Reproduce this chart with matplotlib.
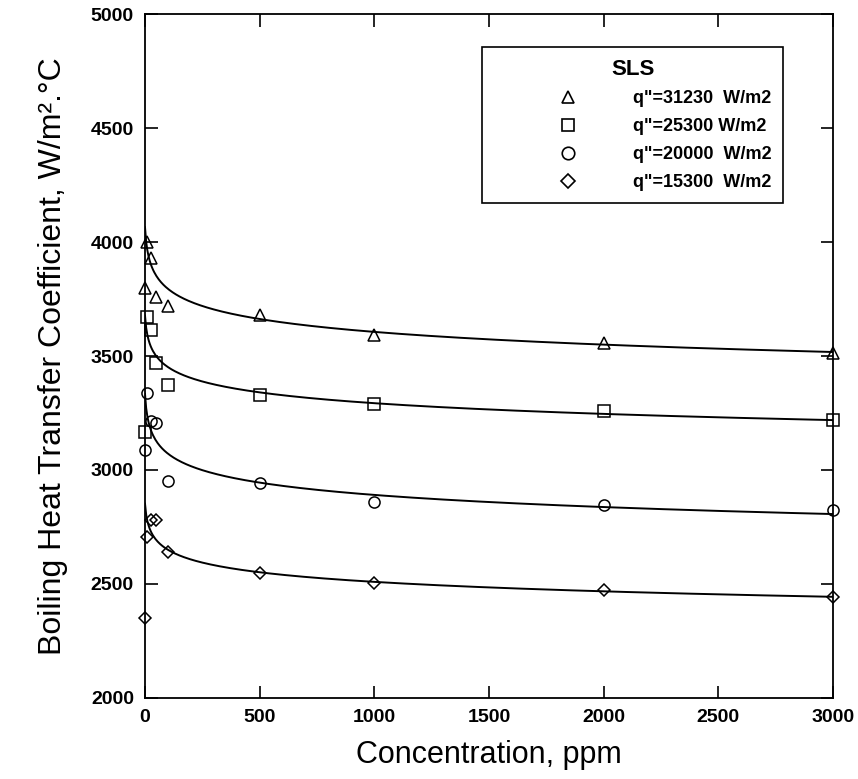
import matplotlib.pyplot as plt
from matplotlib.lines import Line2D
import numpy as np

plt.rcParams['font.family'] = ['Liberation Sans', 'DejaVu Sans']

# concentration, ppm
conc = [0, 10, 25, 50, 100, 500, 1000, 2000, 3000]

# boiling heat transfer coefficient, W/m2.C
h_31230 = [3800, 4000, 3930, 3760, 3720, 3680, 3592, 3557, 3513]
h_25300 = [3167, 3670, 3614, 3470, 3373, 3329, 3289, 3259, 3219]
h_20000 = [3088, 3338, 3215, 3205, 2950, 2943, 2860, 2846, 2825]
h_15300 = [2350, 2706, 2780, 2780, 2640, 2548, 2504, 2474, 2443]

labels = ['q"=31230  W/m2', 'q"=25300 W/m2', 'q"=20000  W/m2', 'q"=15300  W/m2']
markers = ['^', 's', 'o', 'D']
series = [h_31230, h_25300, h_20000, h_15300]

fig = plt.figure(figsize=(8.58, 7.79), dpi=100)
ax = fig.add_axes([0.169, 0.104, 0.802, 0.878])

xs = np.linspace(0, 3000, 600)
handles = []
for h, m, lab in zip(series, markers, labels):
    x = np.array(conc, dtype=float)
    y = np.array(h, dtype=float)
    # power-law fit, pure-water point left out, dilute tail weighted up
    w = np.where(x[1:] >= 500, 4.0, 1.0)
    p = np.polyfit(np.log(x[1:] + 5), np.log(y[1:]), 1, w=w)
    ax.plot(xs, np.exp(np.polyval(p, np.log(xs + 5))), color='black', lw=1.4)
    ms = 6 if m == 'D' else 8
    ax.plot(x, y, linestyle='none', marker=m, ms=ms, mfc='none', mec='black', mew=1.1,
            clip_on=False)
    handles.append(Line2D([], [], linestyle='none', marker=m, ms=ms + 1, mfc='none',
                          mec='black', mew=1.2, label=lab))

ax.set_xlim(0, 3000)
ax.set_ylim(2000, 5000)
ax.set_xticks(np.arange(0, 3001, 500))
ax.set_yticks(np.arange(2000, 5001, 500))
ax.tick_params(direction='in', length=9, width=1.2, top=True, right=True,
               labelsize=14, pad=8)
for t in ax.get_xticklabels() + ax.get_yticklabels():
    t.set_fontweight('bold')
for s in ax.spines.values():
    s.set_linewidth(1.3)

ax.set_xlabel('Concentration, ppm', fontsize=22, labelpad=10)
ax.set_ylabel('Boiling Heat Transfer Coefficient, W/m\u00b2.\u00b0C', fontsize=23, labelpad=16)

leg = ax.legend(handles=handles, title='SLS', loc='upper left',
                bbox_to_anchor=(0.49, 0.952), borderaxespad=0, fancybox=False,
                edgecolor='black', framealpha=1, handlelength=8.2, handletextpad=-0.5,
                labelspacing=0.6, borderpad=0.65, prop={'weight': 'bold', 'size': 13})
leg.get_title().set_fontsize(16)
leg.get_title().set_fontweight('bold')
leg.get_frame().set_linewidth(1.2)

fig.savefig('out.png', dpi=100)
